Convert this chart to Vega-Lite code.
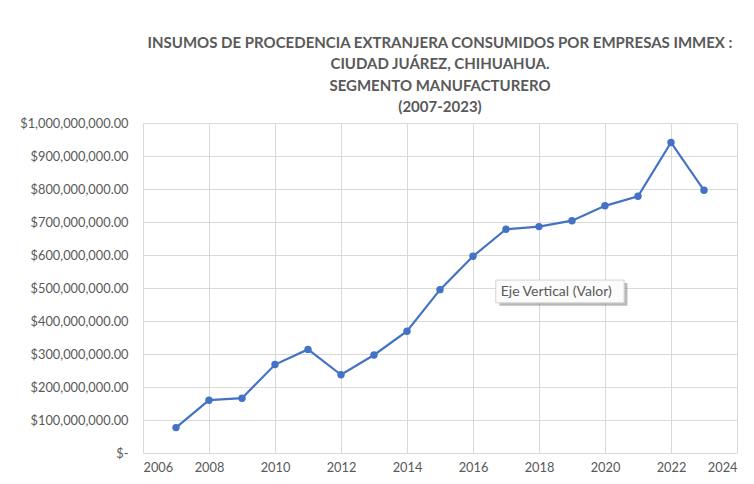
{
  "$schema": "https://vega.github.io/schema/vega-lite/v6.json",
  "width": 594,
  "height": 330,
  "autosize": {"type": "none"},
  "padding": {"left": 143, "top": 123, "right": 17, "bottom": 31},
  "background": "white",
  "title": {
    "text": ["INSUMOS DE PROCEDENCIA EXTRANJERA CONSUMIDOS POR EMPRESAS IMMEX :", "CIUDAD JUÁREZ, CHIHUAHUA.", "SEGMENTO MANUFACTURERO", "(2007-2023)"],
    "anchor": "middle",
    "font": "Lato",
    "fontSize": 15,
    "fontWeight": "bold",
    "color": "#595959",
    "lineHeight": 21.5,
    "offset": 2
  },
  "config": {
    "view": {"stroke": null},
    "axis": {
      "labelFont": "Lato",
      "labelFontSize": 12.8,
      "labelColor": "#595959",
      "gridColor": "#D9D9D9",
      "gridWidth": 1,
      "ticks": false,
      "domain": false,
      "title": null,
      "labelOverlap": false
    }
  },
  "resolve": {"axis": {"x": "independent", "y": "independent"}},
  "layer": [
    {
      "data": {"values": [
        {"year": 2007, "value": 77000000},
        {"year": 2008, "value": 160000000},
        {"year": 2009, "value": 166000000},
        {"year": 2010, "value": 268000000},
        {"year": 2011, "value": 314000000},
        {"year": 2012, "value": 237000000},
        {"year": 2013, "value": 297000000},
        {"year": 2014, "value": 369000000},
        {"year": 2015, "value": 495000000},
        {"year": 2016, "value": 596000000},
        {"year": 2017, "value": 678000000},
        {"year": 2018, "value": 686000000},
        {"year": 2019, "value": 704000000},
        {"year": 2020, "value": 749000000},
        {"year": 2021, "value": 778000000},
        {"year": 2022, "value": 941000000},
        {"year": 2023, "value": 796000000}
      ]},
      "mark": {"type": "line", "color": "#4472C4", "strokeWidth": 2.2, "point": {"filled": true, "size": 55, "color": "#4472C4", "opacity": 1}},
      "encoding": {
        "x": {
          "field": "year", "type": "quantitative",
          "scale": {"domain": [2006, 2024], "nice": false, "zero": false},
          "axis": {"values": [2006, 2008, 2010, 2012, 2014, 2016, 2018, 2020, 2022, 2024], "format": "d", "labelPadding": 8, "labelOverlap": false}
        },
        "y": {
          "field": "value", "type": "quantitative",
          "scale": {"domain": [0, 1000000000], "nice": false},
          "axis": {
            "values": [0, 100000000, 200000000, 300000000, 400000000, 500000000, 600000000, 700000000, 800000000, 900000000, 1000000000],
            "labelExpr": "datum.value == 0 ? '$-' : '$' + format(datum.value, ',.2f')",
            "labelPadding": 15,
            "labelOverlap": false,
            "labelSeparation": 0
          }
        }
      }
    },
    {
      "data": {"values": [{"label": "Eje Vertical (Valor)"}]},
      "mark": {"type": "rect", "fill": "#7F7F7F", "opacity": 0.55},
      "encoding": {
        "x": {"datum": 2016.8, "type": "quantitative", "axis": null},
        "x2": {"datum": 2020.68},
        "y": {"datum": 446000000, "type": "quantitative", "axis": null},
        "y2": {"datum": 515000000}
      }
    },
    {
      "data": {"values": [{"label": "Eje Vertical (Valor)"}]},
      "mark": {"type": "rect", "fill": "#FBFBFB", "stroke": "#D4D4D4", "strokeWidth": 1},
      "encoding": {
        "x": {"datum": 2016.69, "type": "quantitative", "axis": null},
        "x2": {"datum": 2020.58},
        "y": {"datum": 455000000, "type": "quantitative", "axis": null},
        "y2": {"datum": 524000000}
      }
    },
    {
      "data": {"values": [{"label": "Eje Vertical (Valor)"}]},
      "mark": {"type": "text", "align": "left", "baseline": "middle", "font": "Lato", "fontSize": 14, "color": "#595959"},
      "encoding": {
        "x": {"datum": 2016.84, "type": "quantitative", "axis": null},
        "y": {"datum": 489000000, "type": "quantitative", "axis": null},
        "text": {"field": "label"}
      }
    }
  ]
}
